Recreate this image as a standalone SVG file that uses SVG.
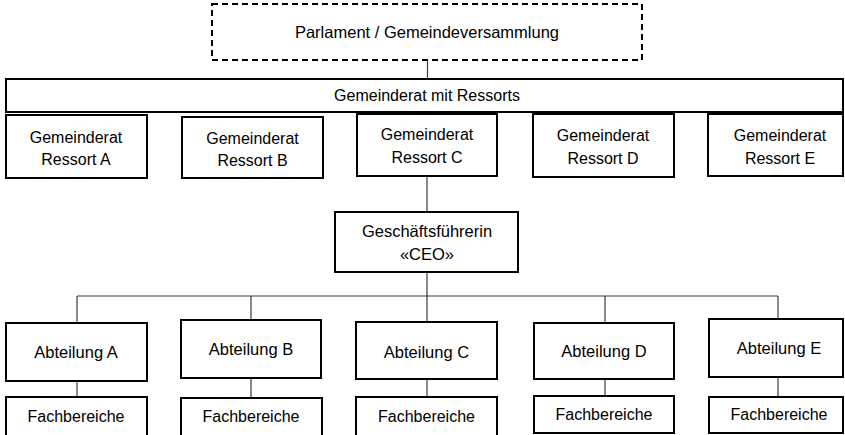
<svg xmlns="http://www.w3.org/2000/svg" width="845" height="435" viewBox="0 0 845 435">
<style>
.box{fill:#fff;stroke:#000;stroke-width:2}
.dash{fill:#fff;stroke:#000;stroke-width:2;stroke-dasharray:6,4}
.con{fill:none;stroke:#3a3a3a;stroke-width:1.2}
text{font-family:"Liberation Sans",Arial,sans-serif;font-size:16.5px;fill:#000;text-anchor:middle}
text.s{font-size:16px}
</style>
<rect width="845" height="435" fill="#fff"/>
<g id="connectors">
<line class="con" x1="427.5" y1="60" x2="427.5" y2="79"/>
<line class="con" x1="427" y1="176" x2="427" y2="212"/>
<line class="con" x1="427" y1="272" x2="427" y2="296"/>
<line class="con" x1="77" y1="296" x2="778" y2="296"/>
<line class="con" x1="77" y1="296" x2="77" y2="323"/>
<line class="con" x1="251" y1="296" x2="251" y2="320"/>
<line class="con" x1="427" y1="296" x2="427" y2="322"/>
<line class="con" x1="605" y1="296" x2="605" y2="323"/>
<line class="con" x1="778" y1="296" x2="778" y2="319"/>
<line class="con" x1="77" y1="381" x2="77" y2="397"/>
<line class="con" x1="251" y1="378" x2="251" y2="398"/>
<line class="con" x1="427" y1="379" x2="427" y2="397"/>
<line class="con" x1="605" y1="379" x2="605" y2="396"/>
<line class="con" x1="778" y1="377" x2="778" y2="397"/>
</g>
<g id="parlament">
<rect class="dash" x="212" y="4" width="430" height="56"/>
<text x="427" y="38">Parlament / Gemeindeversammlung</text>
</g>
<g id="gemeinderat">
<rect class="box" x="6" y="79" width="837" height="33"/>
<text class="s" x="427" y="101">Gemeinderat mit Ressorts</text>
</g>
<g id="ressortA">
<rect class="box" x="6" y="115" width="141" height="63"/>
<text class="s" x="76" y="142.5">Gemeinderat</text>
<text class="s" x="76" y="164.5">Ressort A</text>
</g>
<g id="ressortB">
<rect class="box" x="182" y="117" width="141" height="61"/>
<text class="s" x="252.5" y="144">Gemeinderat</text>
<text class="s" x="252.5" y="166">Ressort B</text>
</g>
<g id="ressortC">
<rect class="box" x="357" y="114" width="140" height="62"/>
<text class="s" x="427" y="140">Gemeinderat</text>
<text class="s" x="427" y="163">Ressort C</text>
</g>
<g id="ressortD">
<rect class="box" x="533" y="114" width="141" height="63"/>
<text class="s" x="603" y="141">Gemeinderat</text>
<text class="s" x="603" y="163.5">Ressort D</text>
</g>
<g id="ressortE">
<rect class="box" x="708" y="114" width="135" height="62"/>
<text class="s" x="780" y="141">Gemeinderat</text>
<text class="s" x="780" y="163.5">Ressort E</text>
</g>
<g id="ceo">
<rect class="box" x="335" y="212" width="183" height="60"/>
<text x="427" y="237">Geschäftsführerin</text>
<text x="427" y="260">«CEO»</text>
</g>
<g id="abteilungA">
<rect class="box" x="6" y="323" width="141" height="58"/>
<text x="76" y="357.5">Abteilung A</text>
</g>
<g id="abteilungB">
<rect class="box" x="181" y="320" width="140" height="58"/>
<text x="251" y="355">Abteilung B</text>
</g>
<g id="abteilungC">
<rect class="box" x="356" y="322" width="141" height="57"/>
<text x="426.5" y="357.5">Abteilung C</text>
</g>
<g id="abteilungD">
<rect class="box" x="534" y="323" width="140" height="56"/>
<text x="604" y="357">Abteilung D</text>
</g>
<g id="abteilungE">
<rect class="box" x="709" y="319" width="134" height="58"/>
<text x="779" y="354">Abteilung E</text>
</g>
<g id="fachA">
<rect class="box" x="6" y="397" width="141" height="45"/>
<text class="s" x="76" y="422">Fachbereiche</text>
</g>
<g id="fachB">
<rect class="box" x="181" y="398" width="141" height="45"/>
<text class="s" x="251" y="422">Fachbereiche</text>
</g>
<g id="fachC">
<rect class="box" x="356" y="397" width="141" height="45"/>
<text class="s" x="426.5" y="422">Fachbereiche</text>
</g>
<g id="fachD">
<rect class="box" x="534" y="396" width="140" height="37"/>
<text class="s" x="604" y="420">Fachbereiche</text>
</g>
<g id="fachE">
<rect class="box" x="709" y="397" width="134" height="36"/>
<text class="s" x="779" y="420">Fachbereiche</text>
</g>
</svg>
